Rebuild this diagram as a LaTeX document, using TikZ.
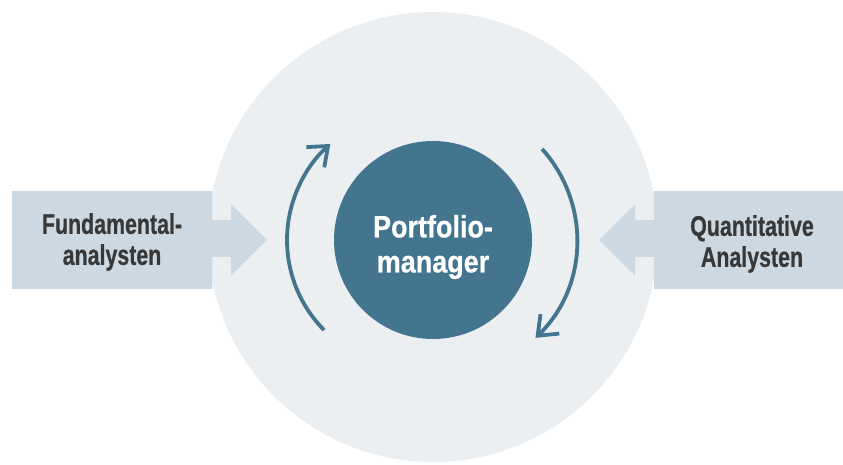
\documentclass[tikz,border=0pt]{standalone}
\usepackage{fontspec}
\usetikzlibrary{arrows.meta}
\newfontfamily\sidefont{Liberation Sans}[FakeStretch=0.75,FakeBold=0.6]
\newfontfamily\centfont{Liberation Sans}[FakeStretch=0.87,FakeBold=0.6]
\definecolor{bigcirc}{HTML}{ECEFF2}
\definecolor{boxfill}{HTML}{CDD9E2}
\definecolor{pmblue}{HTML}{44758F}
\definecolor{txtgray}{HTML}{383838}
\tikzset{
  sidebox/.style={draw=none, minimum height=98pt, inner sep=0pt},
  sidetext/.style={text=txtgray, align=center, inner sep=0pt,
    font=\sidefont\bfseries\fontsize{28.5pt}{31pt}\selectfont},
  cycarrow/.style={draw=pmblue, line width=3.8pt,
    -{Straight Barb[length=17pt,width=27pt,line width=3.8pt]}},
}
\begin{document}
\begin{tikzpicture}[x=1pt,y=1pt]
\useasboundingbox (0,0) rectangle (843,465);
% big background circle
\fill[bigcirc] (433,228) circle[radius=225pt];
% left input arrow
\node[sidebox, minimum width=200pt, anchor=west] (fa) at (12,225) {};
\fill[boxfill] (fa.south west) -- (fa.south east) -- (fa.east |- 0,208) -- (231,208)
  -- (231,189) -- (267,225) -- (231,261) -- (231,245) -- (fa.east |- 0,245)
  -- (fa.north east) -- (fa.north west) -- cycle;
\node[sidetext] (fat) at (112,223) {Fundamental-\\analysten};
% right input arrow
\node[sidebox, minimum width=200pt, anchor=west] (qa) at (654,225) {};
\fill[boxfill] (qa.south east) -- (qa.south west) -- (qa.west |- 0,208) -- (635,208)
  -- (635,189) -- (599,225) -- (635,261) -- (635,245) -- (qa.west |- 0,245)
  -- (qa.north west) -- (qa.north east) -- cycle;
\node[sidetext] (qat) at (752,221) {Quantitative\\Analysten};
% central circle
\node[circle, fill=pmblue, minimum size=198pt, inner sep=0pt] (pm) at (433,225) {};
\node[text=white, align=center, inner sep=0pt,
  font=\centfont\bfseries\fontsize{31pt}{35pt}\selectfont] (pmt) at (433,218) {Portfolio-\\manager};
% cycle arrows
\draw[cycarrow] (415,225) ++(224.7:128pt) arc[start angle=224.7, end angle=131.4, radius=128pt];
\draw[cycarrow] (441,225) ++(42:136pt) arc[start angle=42, end angle=-46, radius=136pt];
\end{tikzpicture}
\end{document}
